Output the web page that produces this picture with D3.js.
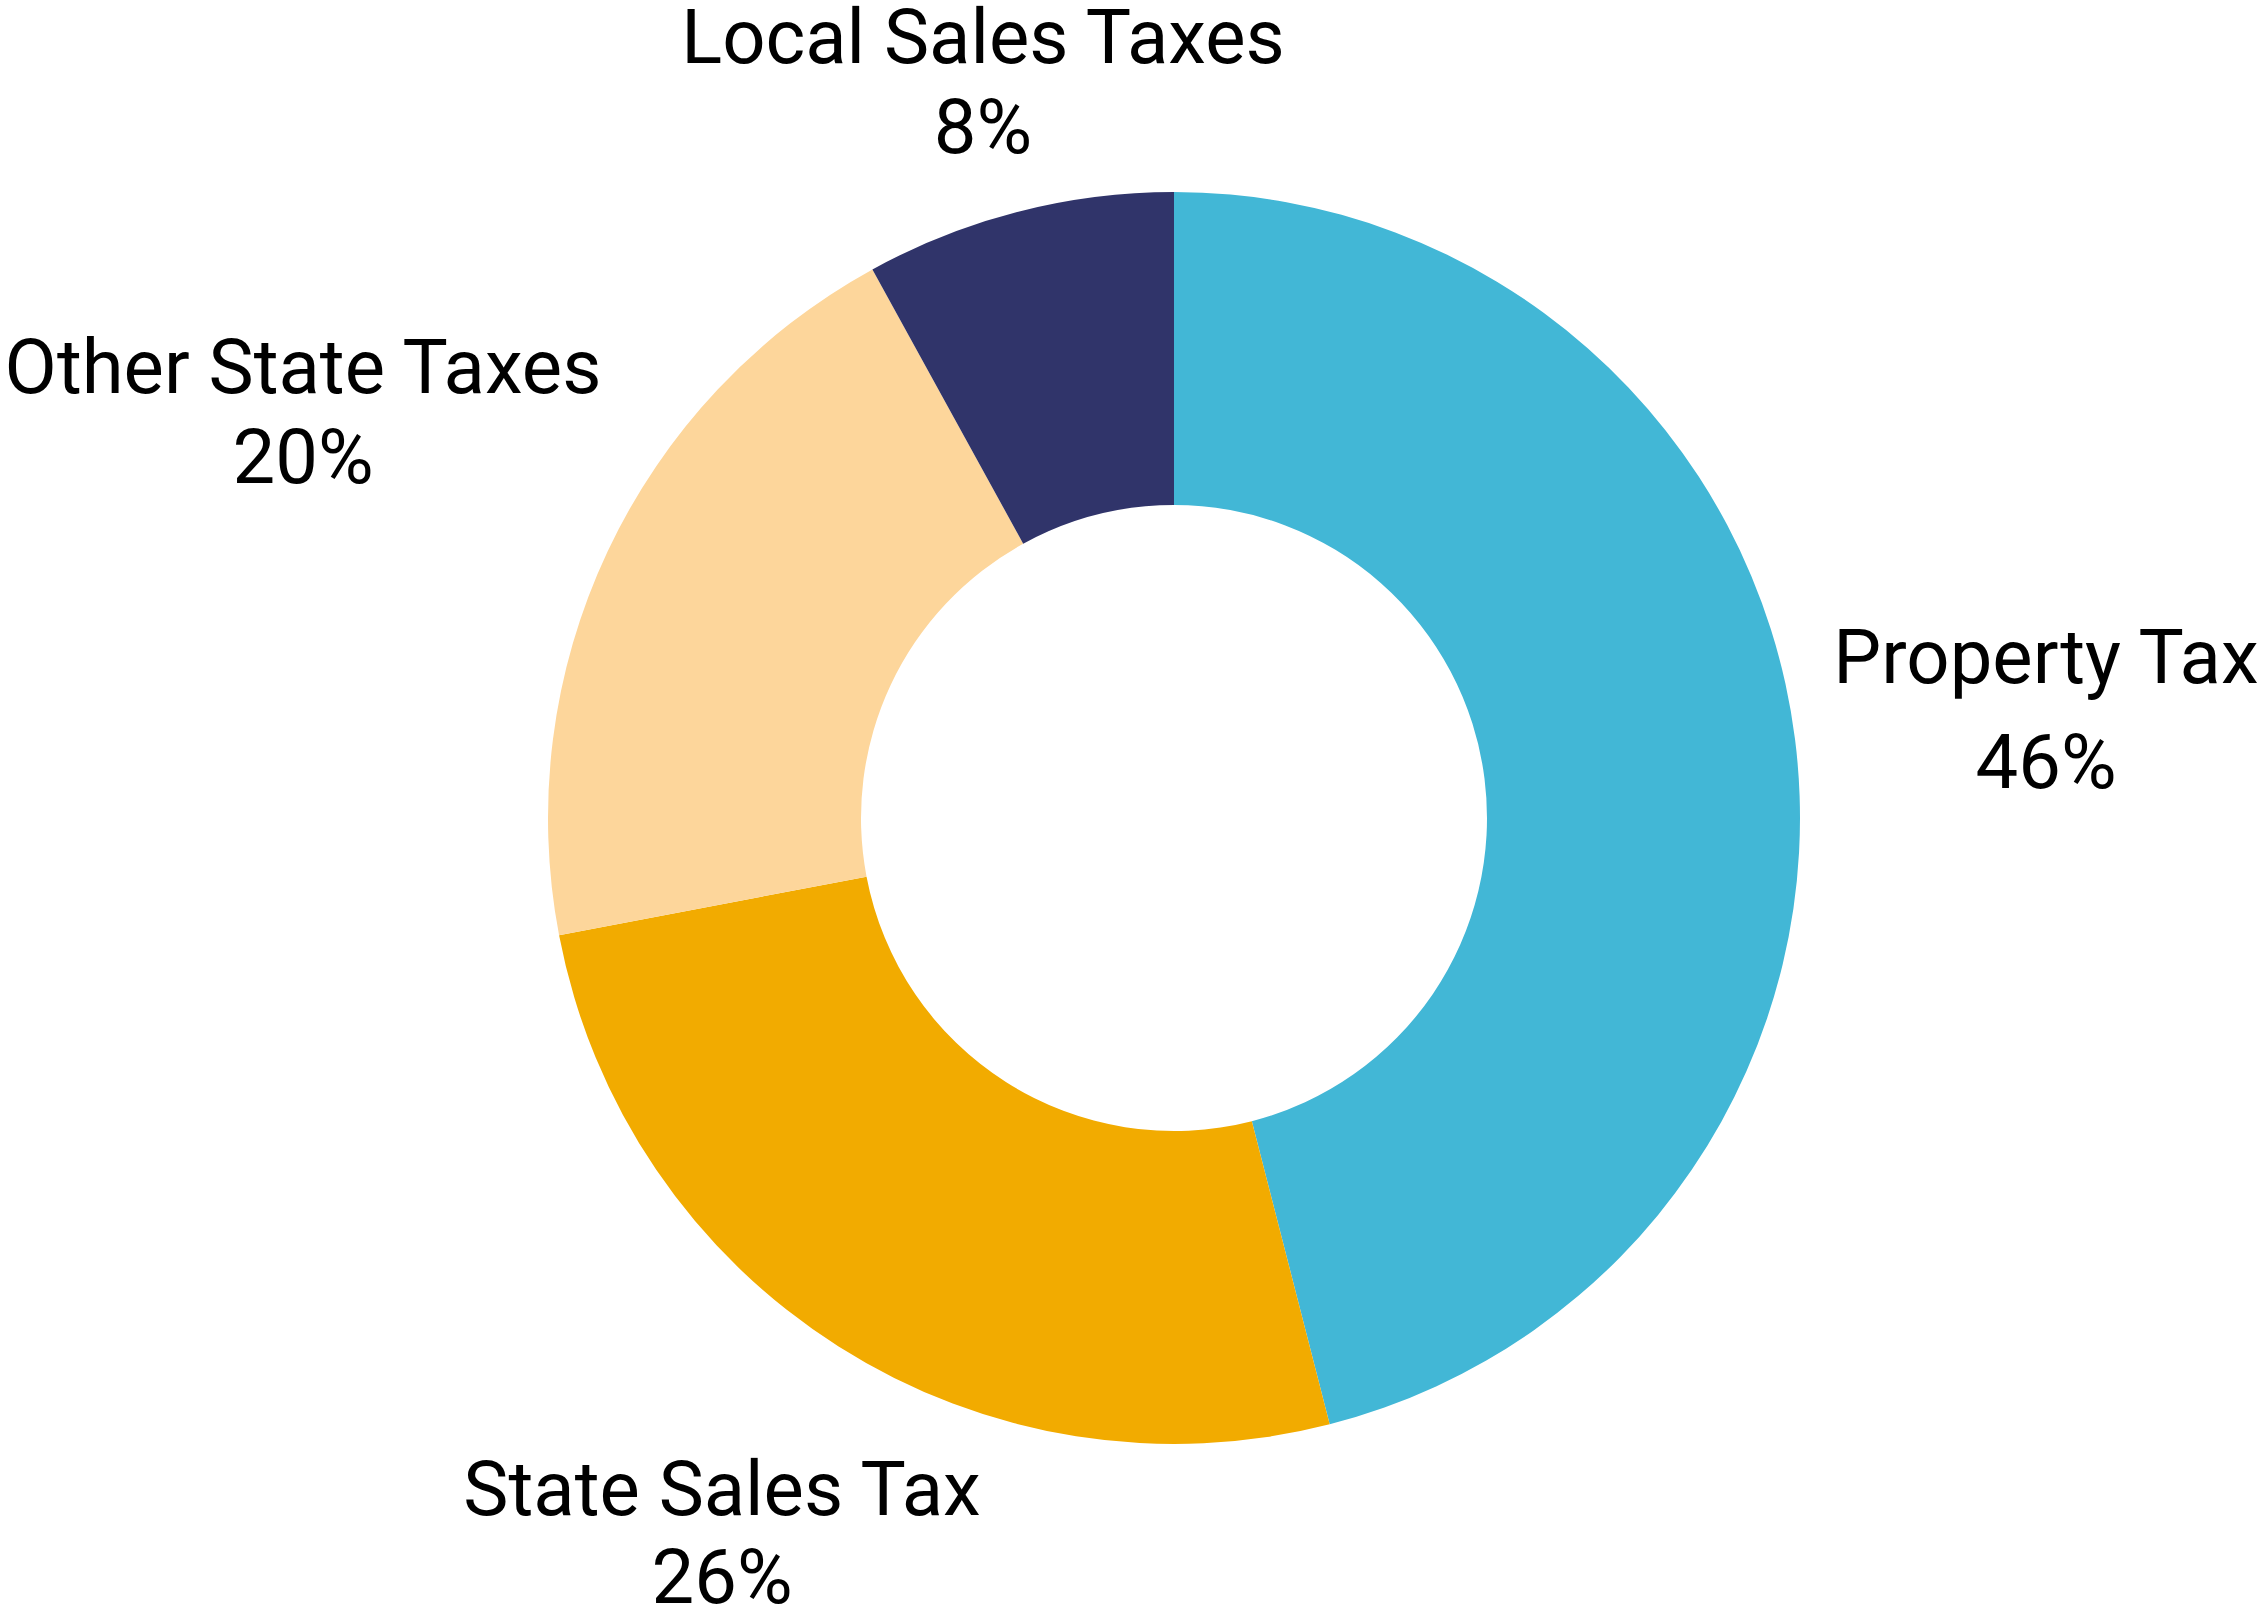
<!DOCTYPE html>
<html>
<head>
<meta charset="utf-8">
<script src="https://cdn.jsdelivr.net/npm/d3@7"></script>
<style>
html,body{margin:0;padding:0;background:#fff;}
svg{display:block;}
</style>
</head>
<body>
<svg id="chart" width="2266" height="1610"></svg>
<script>
const categories = ["Property Tax", "State Sales Tax", "Other State Taxes", "Local Sales Taxes"];
const values = [46, 26, 20, 8];
const valueLabels = ["46%", "26%", "20%", "8%"];
const colors = ["#42b7d6", "#f2ab00", "#fdd69b", "#30346a"];

const W = 2266, H = 1610;
const cx = 1174, cy = 818, R = 626, r = 313;
// label anchor positions (layout only)
const labelPos = [
  {x: 2046, y1: 683, y2: 788},
  {x: 722, y1: 1515, y2: 1603},
  {x: 303, y1: 393, y2: 483},
  {x: 983, y1: 63, y2: 153}
];

const data = categories.map((c, i) => ({name: c, value: values[i], label: valueLabels[i], color: colors[i]}));
const svg = d3.select("#chart");
const pie = d3.pie().value(d => d.value).sort(null);
const arc = d3.arc().innerRadius(r).outerRadius(R);
const g = svg.append("g").attr("transform", `translate(${cx},${cy})`);
g.selectAll("path").data(pie(data)).enter().append("path")
  .attr("d", arc).attr("fill", d => d.data.color);

const lab = svg.append("g").attr("font-family", "Roboto, sans-serif").attr("font-size", 76)
  .attr("fill", "#000").attr("text-anchor", "middle");
data.forEach((d, i) => {
  const p = labelPos[i];
  lab.append("text").attr("x", p.x).attr("y", p.y1).text(d.name);
  lab.append("text").attr("x", p.x).attr("y", p.y2).text(d.label);
});
</script>
</body>
</html>
